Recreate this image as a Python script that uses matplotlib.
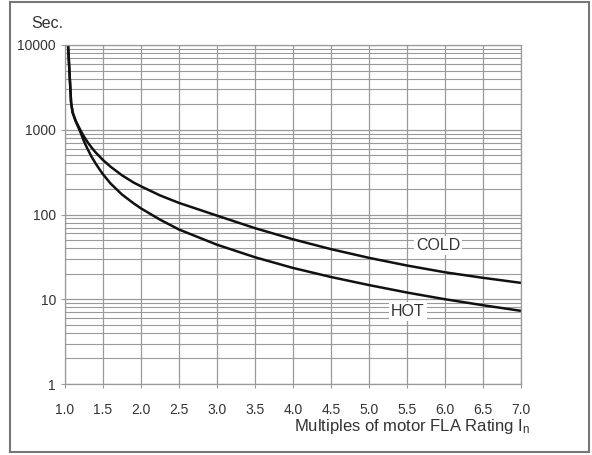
import matplotlib
matplotlib.use("Agg")
import matplotlib.pyplot as plt
from matplotlib import font_manager
from matplotlib.patches import Rectangle
from matplotlib.ticker import FixedLocator, LogLocator, NullFormatter

names = {f.name for f in font_manager.fontManager.ttflist}
FONT = "Liberation Sans Narrow" if "Liberation Sans Narrow" in names else "Liberation Sans"
plt.rcParams['font.family'] = [FONT, 'DejaVu Sans']
plt.rcParams['mathtext.default'] = 'regular'

# Data (seconds)
cold_x = [1.04, 1.08, 1.10, 1.14, 1.20, 1.25, 1.30, 1.35, 1.40, 1.50, 1.60, 1.75, 1.90, 2.00,
          2.25, 2.50, 3.00, 3.50, 4.00, 4.50, 5.00, 5.50, 6.00, 6.50, 7.00]
cold_y = [10000, 2100, 1600, 1280, 1000, 830, 708, 616, 544, 439, 366, 290, 239, 215,
          168, 137, 97, 69, 51, 39, 30.8, 25, 20.8, 17.9, 15.6]
hot_x = [1.04, 1.08, 1.10, 1.14, 1.20, 1.25, 1.30, 1.35, 1.40, 1.45, 1.50, 1.60, 1.75,
         1.90, 2.00, 2.25, 2.50, 3.00, 3.50, 4.00, 4.50, 5.00, 5.50, 6.00, 6.50, 7.00]
hot_y = [10000, 2100, 1600, 1260, 950, 730, 585, 480, 404, 345, 298, 232, 172,
         136, 118, 87, 66.5, 44, 31.3, 23.4, 18.3, 14.7, 12.0, 10.0, 8.5, 7.3]
x_ticks = [1.0, 1.5, 2.0, 2.5, 3.0, 3.5, 4.0, 4.5, 5.0, 5.5, 6.0, 6.5, 7.0]
x_ticklabels = ["1.0", "1.5", "2.0", "2.5", "3.0", "3.5", "4.0", "4.5", "5.0", "5.5", "6.0", "6.5", "7.0"]
y_ticks = [1, 10, 100, 1000, 10000]
y_ticklabels = ["1", "10", "100", "1000", "10000"]

W, H = 592, 455
fig = plt.figure(figsize=(W / 100, H / 100), dpi=100)
ax = fig.add_axes([65 / W, 1 - 384 / H, 456 / W, 339 / H])

grid_c = "#9a9a9a"
ax.set_yscale("log")
ax.set_xlim(1.0, 7.0)
ax.set_ylim(1, 10000)

ax.xaxis.set_major_locator(FixedLocator(x_ticks))
ax.set_xticklabels(x_ticklabels)
ax.yaxis.set_major_locator(FixedLocator(y_ticks))
ax.set_yticklabels(y_ticklabels)
ax.yaxis.set_minor_locator(LogLocator(base=10, subs=range(2, 10)))
ax.yaxis.set_minor_formatter(NullFormatter())

ax.grid(True, which="major", axis="both", color=grid_c, lw=0.9)
ax.grid(True, which="minor", axis="y", color=grid_c, lw=0.8)
ax.set_axisbelow(True)

ax.tick_params(axis="both", which="major", labelsize=10, colors="#333333",
               length=3, width=0.8, color=grid_c)
ax.tick_params(axis="x", pad=11)
ax.tick_params(axis="y", pad=3.5)
ax.tick_params(axis="y", which="minor", length=0)
for s in ax.spines.values():
    s.set_color(grid_c)
    s.set_linewidth(0.9)

ax.plot(cold_x, cold_y, color="#111111", lw=1.8, solid_capstyle="butt", solid_joinstyle="round")
ax.plot(hot_x, hot_y, color="#111111", lw=1.8, solid_capstyle="butt", solid_joinstyle="round")

bbox = dict(facecolor="white", edgecolor="none", pad=1.5)
ax.text(5.91, 43, "COLD", ha="center", va="center", fontsize=11.5, color="#333333", bbox=bbox)
ax.text(5.51, 7.2, "HOT", ha="center", va="center", fontsize=11.5, color="#333333", bbox=bbox)

fig.text(47 / W, 1 - 23.5 / H, "Sec.", ha="center", va="center", fontsize=11.5, color="#333333")
fig.text(530 / W, 1 - 427 / H, r"Multiples of motor FLA Rating I$_{n}$", ha="right", va="center",
         fontsize=12, color="#333333")

fig.add_artist(Rectangle((10 / W, 1 - 452 / H), 579 / W, 450 / H, transform=fig.transFigure,
                         fill=False, edgecolor="#777777", lw=1.5))

fig.savefig("out.png", dpi=100)
